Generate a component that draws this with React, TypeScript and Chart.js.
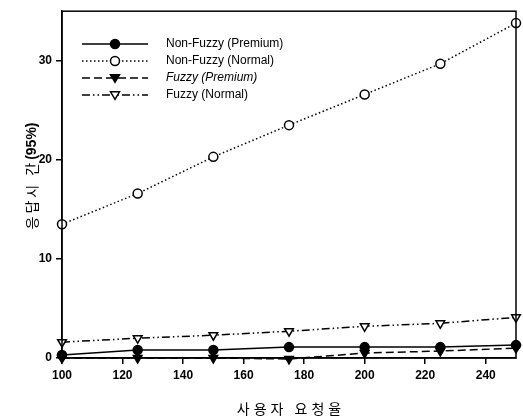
import React, { useEffect, useRef } from "react";
import { Chart, registerables } from "chart.js";

Chart.register(...registerables);

const xValues = [100, 125, 150, 175, 200, 225, 250];
const nonFuzzyPremium = [0.3, 0.8, 0.8, 1.1, 1.1, 1.1, 1.3];
const nonFuzzyNormal = [13.5, 16.6, 20.3, 23.5, 26.6, 29.7, 33.8];
const fuzzyPremium = [0.0, 0.0, 0.0, -0.1, 0.5, 0.7, 1.0];
const fuzzyNormal = [1.6, 2.0, 2.3, 2.7, 3.2, 3.5, 4.1];
const xTicks = [100, 120, 140, 160, 180, 200, 220, 240];
const yTicks = [0, 10, 20, 30];
const seriesLabels = ["Non-Fuzzy (Premium)", "Non-Fuzzy (Normal)", "Fuzzy (Premium)", "Fuzzy (Normal)"];
const xTitle = "사용자 요청율";
const yTitle = "응답시 간(95%)";

const FONT = "'Liberation Sans', Arial, sans-serif";
const KFONT = "'Noto Sans CJK KR', sans-serif";

function drawMarker(ctx: CanvasRenderingContext2D, style: string, filled: boolean, x: number, y: number, r: number) {
  ctx.save();
  ctx.beginPath();
  if (style === "circle") {
    ctx.arc(x, y, r, 0, Math.PI * 2);
  } else {
    ctx.moveTo(x - r, y - r * 0.7);
    ctx.lineTo(x + r, y - r * 0.7);
    ctx.lineTo(x, y + r * 0.95);
    ctx.closePath();
  }
  ctx.setLineDash([]);
  ctx.fillStyle = filled ? "#000" : "#fff";
  ctx.fill();
  ctx.lineWidth = 1.5;
  ctx.strokeStyle = "#000";
  ctx.stroke();
  ctx.restore();
}

const framePlugin = {
  id: "frame",
  afterDraw(chart: any) {
    const { ctx, chartArea: a } = chart;
    ctx.save();
    ctx.strokeStyle = "#000";
    ctx.lineWidth = 1.5;
    ctx.strokeRect(a.left, a.top, a.right - a.left, a.bottom - a.top);
    ctx.restore();
  },
};

const titlePlugin = {
  id: "axisTitles",
  afterDraw(chart: any) {
    const { ctx, chartArea: a } = chart;
    ctx.save();
    ctx.fillStyle = "#000";
    ctx.font = "14px " + KFONT;
    (ctx as any).letterSpacing = "4px";
    ctx.textAlign = "center";
    ctx.textBaseline = "middle";
    ctx.fillText(xTitle, (a.left + a.right) / 2 + 2, 409);
    ctx.restore();

    // y title: Korean part spaced, numeric part in Latin font
    const cut = yTitle.indexOf("(");
    const kPart = yTitle.slice(0, cut);
    const nPart = yTitle.slice(cut);
    ctx.save();
    ctx.fillStyle = "#000";
    ctx.textBaseline = "middle";
    ctx.textAlign = "left";
    ctx.font = "14px " + KFONT;
    (ctx as any).letterSpacing = "3px";
    const wk = ctx.measureText(kPart).width;
    ctx.font = "bold 14px " + FONT;
    (ctx as any).letterSpacing = "0px";
    const wn = ctx.measureText(nPart).width;
    const total = wk + wn;
    ctx.translate(32, 176);
    ctx.rotate(-Math.PI / 2);
    ctx.font = "14px " + KFONT;
    (ctx as any).letterSpacing = "3px";
    ctx.fillText(kPart, -total / 2, 0);
    ctx.font = "bold 14px " + FONT;
    (ctx as any).letterSpacing = "0px";
    ctx.fillText(nPart, -total / 2 + wk, 0);
    ctx.restore();
  },
};

const legendPlugin = {
  id: "innerLegend",
  afterDraw(chart: any) {
    const { ctx } = chart;
    const ys = [44, 61, 78, 95];
    chart.data.datasets.forEach((ds: any, i: number) => {
      const y = ys[i];
      ctx.save();
      ctx.strokeStyle = "#000";
      ctx.lineWidth = ds.borderWidth;
      ctx.setLineDash(ds.borderDash || []);
      ctx.beginPath();
      ctx.moveTo(82, y);
      ctx.lineTo(148, y);
      ctx.stroke();
      ctx.restore();
      drawMarker(ctx, ds.markerShape, ds.markerFilled, 115, y, 4.5);
      ctx.save();
      ctx.fillStyle = "#000";
      ctx.font = (ds.italicLegend ? "italic " : "") + "12px " + FONT;
      ctx.textBaseline = "middle";
      ctx.textAlign = "left";
      ctx.fillText(ds.label, 166, y);
      ctx.restore();
    });
  },
};

export default function App() {
  const ref = useRef<HTMLCanvasElement>(null);
  useEffect(() => {
    document.body.style.margin = "0";
    const mk = (label: string, data: number[], dash: number[], shape: string, filled: boolean, italic = false) => ({
      label,
      data: xValues.map((x, i) => ({ x, y: data[i] })),
      borderColor: "#000",
      borderWidth: 1.5,
      borderDash: dash,
      backgroundColor: filled ? "#000" : "#fff",
      pointBackgroundColor: filled ? "#000" : "#fff",
      pointBorderColor: "#000",
      pointBorderWidth: 1.5,
      pointRadius: shape === "circle" ? 4.5 : 5,
      pointStyle: shape,
      rotation: shape === "triangle" ? 180 : 0,
      markerShape: shape,
      markerFilled: filled,
      italicLegend: italic,
      fill: false,
      tension: 0,
      clip: false,
    });
    const chart = new Chart(ref.current!, {
      type: "line",
      data: {
        datasets: [
          mk(seriesLabels[0], nonFuzzyPremium, [], "circle", true),
          mk(seriesLabels[1], nonFuzzyNormal, [1.5, 2.5], "circle", false),
          mk(seriesLabels[2], fuzzyPremium, [8, 4], "triangle", true, true),
          mk(seriesLabels[3], fuzzyNormal, [8, 3, 1.5, 3, 1.5, 3], "triangle", false),
        ] as any,
      },
      options: {
        animation: false,
        responsive: false,
        devicePixelRatio: 1,
        layout: { padding: { top: 8, right: 7, left: 0, bottom: 0 } },
        plugins: { legend: { display: false }, tooltip: { enabled: false } },
        scales: {
          x: {
            type: "linear",
            min: 100,
            max: 250,
            afterBuildTicks: (s: any) => {
              s.ticks = xTicks.map((v) => ({ value: v }));
            },
            afterFit: (s: any) => {
              s.height = 59;
            },
            grid: { display: true, drawOnChartArea: false, drawTicks: true, tickLength: 6, color: "#000", lineWidth: 1.5 },
            border: { display: true, color: "#000", width: 1.5 },
            ticks: { color: "#000", font: { family: FONT, size: 12, weight: "bold" }, padding: 4, maxRotation: 0 },
            title: { display: false },
          },
          y: {
            type: "linear",
            min: 0,
            max: 35,
            afterBuildTicks: (s: any) => {
              s.ticks = yTicks.map((v) => ({ value: v }));
            },
            afterFit: (s: any) => {
              s.width = 62;
            },
            grid: { display: true, drawOnChartArea: false, drawTicks: true, tickLength: 6, color: "#000", lineWidth: 1.5 },
            border: { display: true, color: "#000", width: 1.5 },
            ticks: { color: "#000", font: { family: FONT, size: 12, weight: "bold" }, padding: 4 },
            title: { display: false },
          },
        },
      } as any,
      plugins: [framePlugin, legendPlugin, titlePlugin],
    });
    return () => chart.destroy();
  }, []);
  return <canvas ref={ref} width={523} height={417} style={{ display: "block" }} />;
}
